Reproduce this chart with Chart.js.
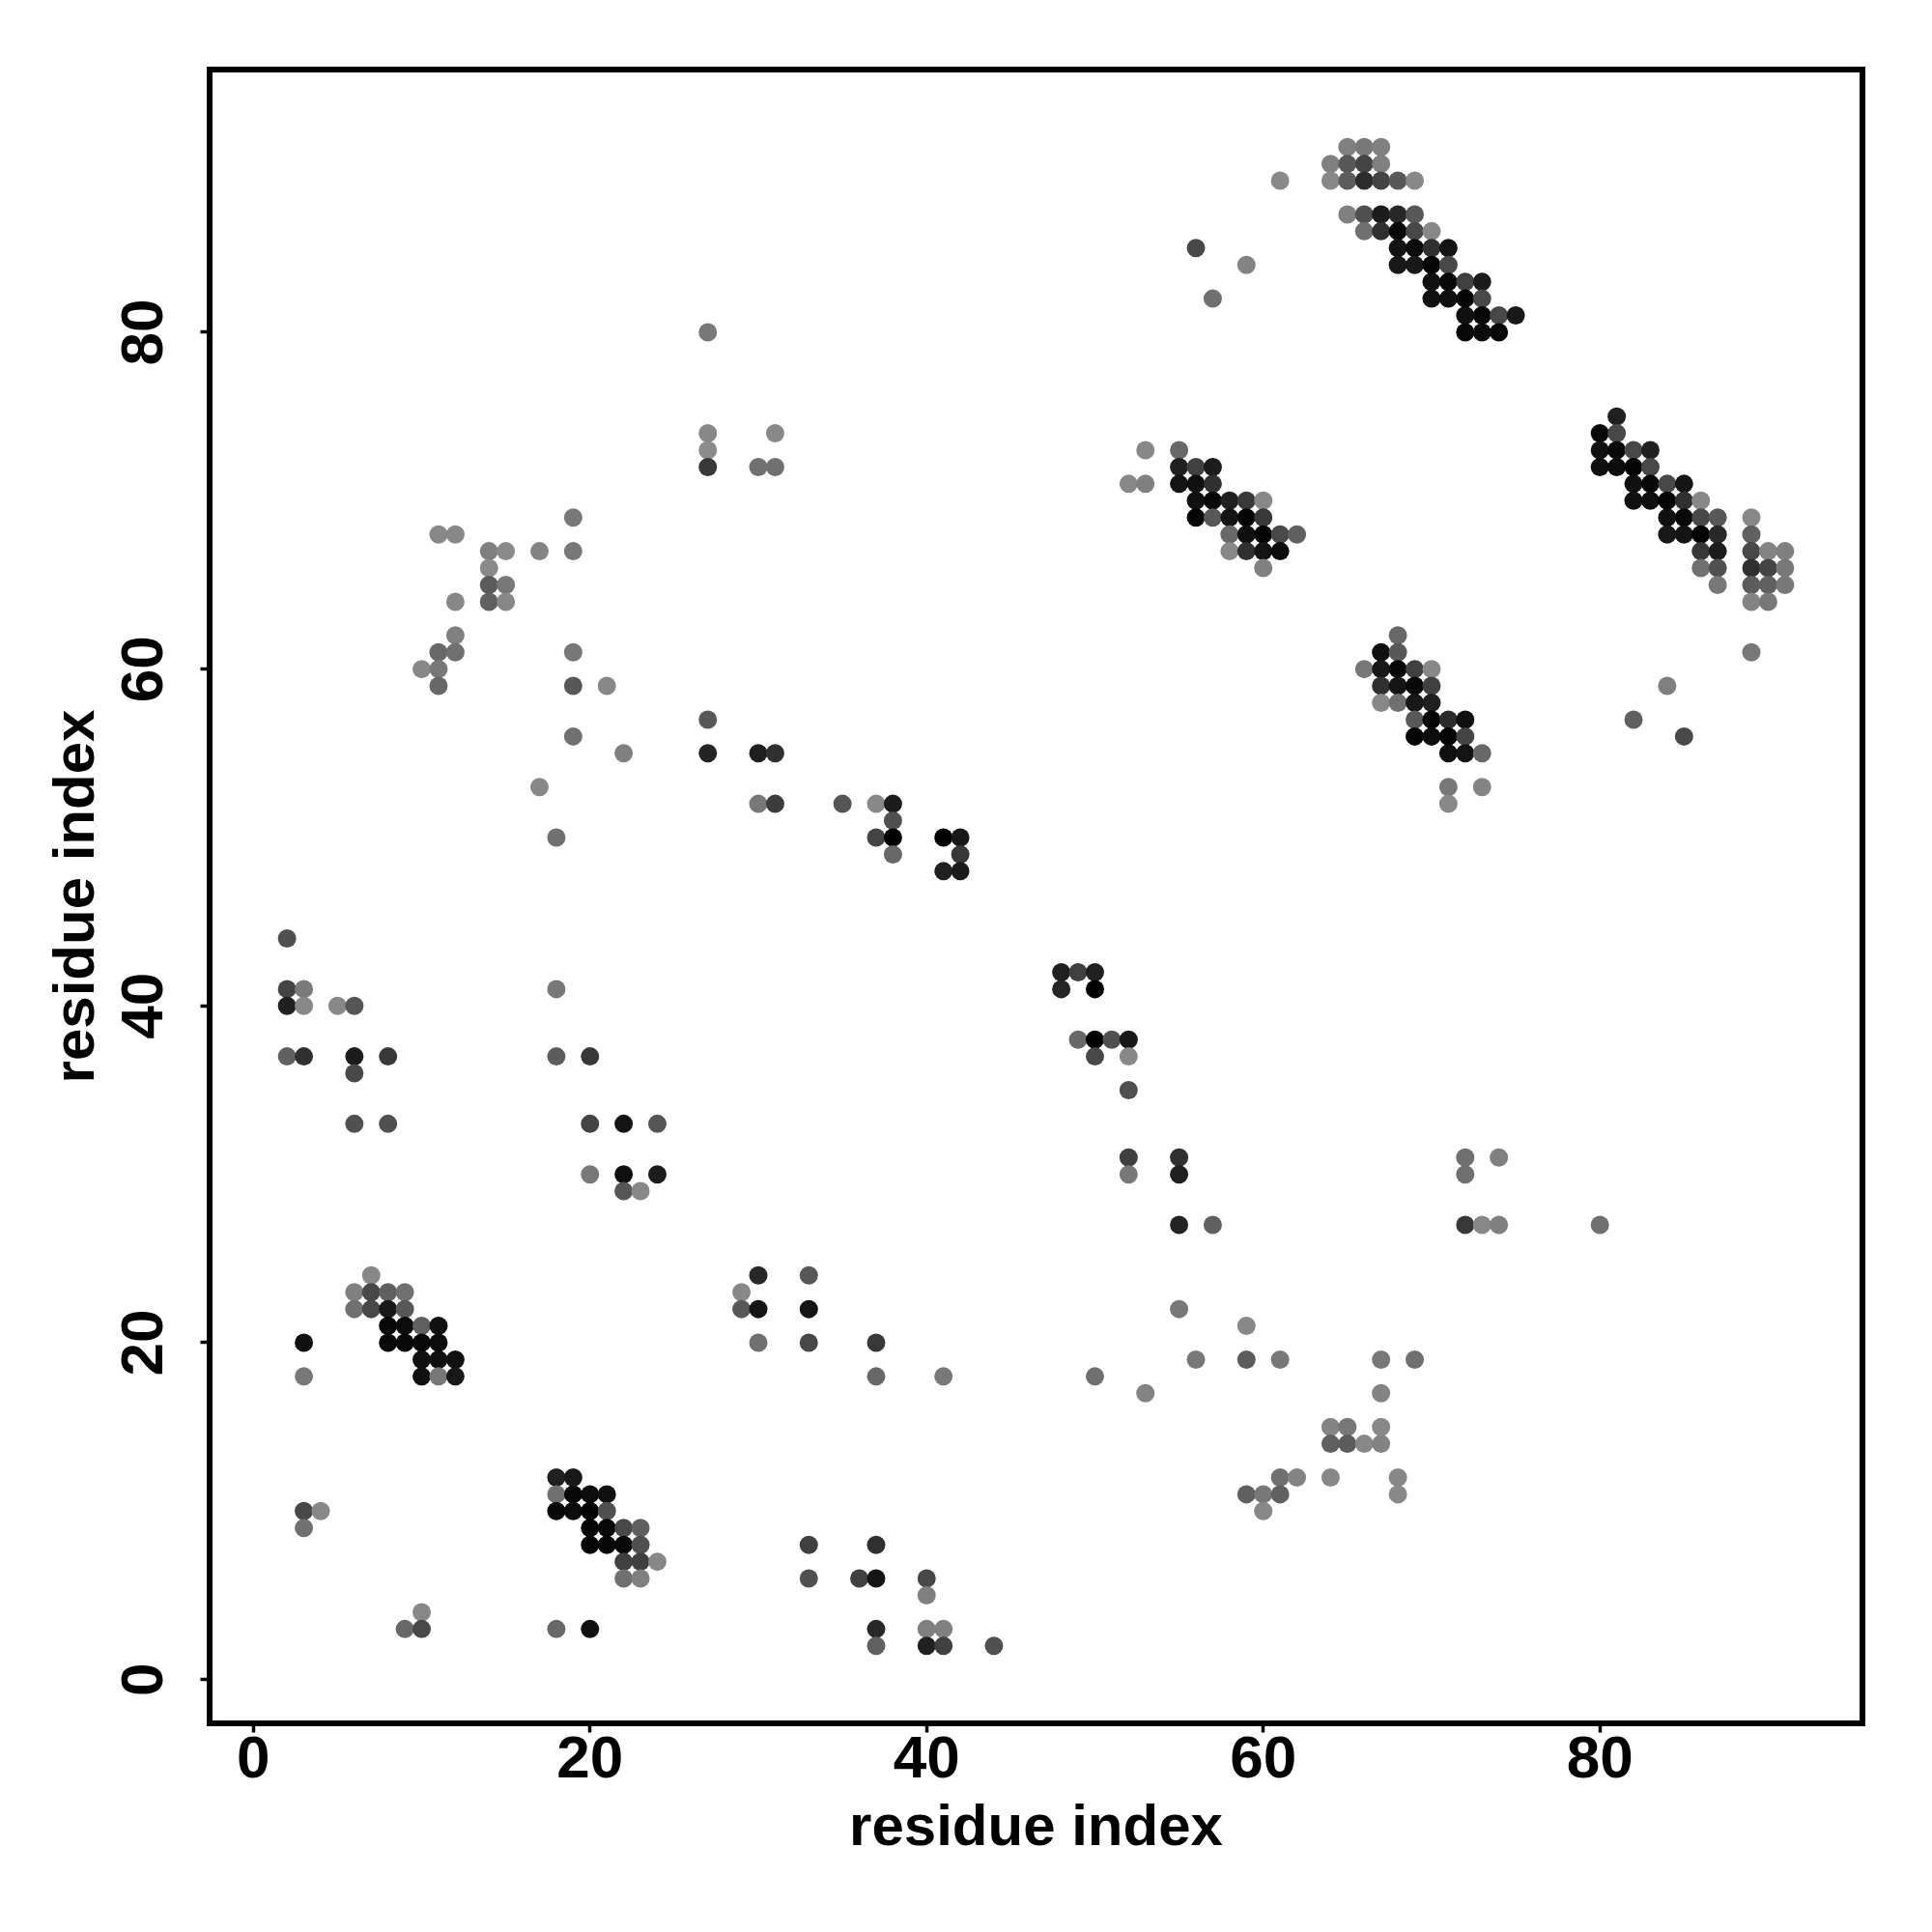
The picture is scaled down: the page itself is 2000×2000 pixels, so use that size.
<!DOCTYPE html>
<html>
<head>
<meta charset="utf-8">
<style>html,body{margin:0;padding:0;background:#fff}canvas{display:block}</style>
<script src="https://cdn.jsdelivr.net/npm/chart.js@4/dist/chart.umd.min.js"></script>
</head>
<body>
<canvas id="c" width="2000" height="2000" style="width:2000px;height:2000px"></canvas>
<script>
const tickValues = [0, 20, 40, 60, 80];
const axisLabel = "residue index";

const residueX = [
  65,66,67, 64,65,66,67, 61,64,65,66,67,68,69, 65,66,67,68,69, 66,67,68,69,70,
  56,68,69,70,71, 59,68,69,70,71, 70,71,72,73, 57,70,71,72,73, 72,73,74,75, 27,72,73,74,
  81, 80,81, 27,31, 27,53,55,80,81,82,83, 27,30,31,55,56,57,80,81,82,83,
  52,53,55,56,57,82,83,84,85, 56,57,58,59,60,82,83,84,85,86,
  19,56,57,58,59,60,84,85,86,87,89, 11,12,58,59,60,61,62,84,85,86,87,89,
  14,15,17,19,58,59,60,61,86,87,89,90,91, 14,60,86,87,89,90,91,
  14,15,87,89,90,91, 12,14,15,89,90, 12,68, 11,12,19,67,68,89,
  10,11,66,67,68,69,70, 11,19,21,67,68,69,70,84, 67,68,69,70,
  27,69,70,71,72,82, 19,69,70,71,72,85, 22,27,30,31,71,72,73,
  17,71,73, 30,31,35,37,38,71, 38, 18,37,38,41,42, 38,42, 41,42,
  2, 48,49,50, 2,3,18,48,50, 2,3,5,6, 49,50,51,52, 2,3,6,8,18,20,50,52, 6, 52,
  6,8,20,22,24,72,74, 52,55,72, 20,22,24,52,55, 22,23,
  7,30,33, 55,57,72,73,74,80, 6,7,8,9,29, 6,7,8,9,29,30,33,55, 8,9,10,11,59,
  3,8,9,10,11,30,33,37, 10,11,12,56,59,61,67,69, 3,10,11,12,37,41,50,
  53,67, 64,65,67, 64,65,66,67, 18,19,61,62,64,68, 18,19,20,21,59,60,61,68,
  3,4,18,19,20,21,60, 3,20,21,22,23, 20,21,22,23,33,37, 22,23,24,
  22,23,33,36,37,40, 40, 10, 9,10,18,20,37,40,41, 37,40,41,44
];
const residueY = [
  91,91,91, 90,90,90,90, 89,89,89,89,89,89,89, 87,87,87,87,87, 86,86,86,86,86,
  85,85,85,85,85, 84,84,84,84,84, 83,83,83,83, 82,82,82,82,82, 81,81,81,81, 80,80,80,80,
  75, 74,74, 74,74, 73,73,73,73,73,73,73, 72,72,72,72,72,72,72,72,72,72,
  71,71,71,71,71,71,71,71,71, 70,70,70,70,70,70,70,70,70,70,
  69,69,69,69,69,69,69,69,69,69,69, 68,68,68,68,68,68,68,68,68,68,68,68,
  67,67,67,67,67,67,67,67,67,67,67,67,67, 66,66,66,66,66,66,66,
  65,65,65,65,65,65, 64,64,64,64,64, 62,62, 61,61,61,61,61,61,
  60,60,60,60,60,60,60, 59,59,59,59,59,59,59,59, 58,58,58,58,
  57,57,57,57,57,57, 56,56,56,56,56,56, 55,55,55,55,55,55,55,
  53,53,53, 52,52,52,52,52,52, 51, 50,50,50,50,50, 49,49, 48,48,
  44, 42,42,42, 41,41,41,41,41, 40,40,40,40, 38,38,38,38, 37,37,37,37,37,37,37,37, 36, 35,
  33,33,33,33,33,31,31, 31,31,30, 30,30,30,30,30, 29,29,
  24,24,24, 27,27,27,27,27,27, 23,23,23,23,23, 22,22,22,22,22,22,22,22, 21,21,21,21,21,
  20,20,20,20,20,20,20,20, 19,19,19,19,19,19,19,19, 18,18,18,18,18,18,18,
  17,17, 15,15,15, 14,14,14,14, 12,12,12,12,12,12, 11,11,11,11,11,11,11,11,
  10,10,10,10,10,10,10, 9,9,9,9,9, 8,8,8,8,8,8, 7,7,7,
  6,6,6,6,6,6, 5, 4, 3,3,3,3,3,3,3, 2,2,2,2
];
const residueShade = [
  0x80,0x78,0x80, 0x80,0x58,0x44,0x80, 0x88,0x88,0x5c,0x2c,0x44,0x58,0x88, 0x80,0x50,0x1c,0x28,0x58, 0x70,0x30,0x08,0x48,0x88,
  0x48,0x14,0x0c,0x30,0x14, 0x84,0x18,0x18,0x04,0x48, 0x10,0x08,0x40,0x1c, 0x70,0x10,0x10,0x04,0x48, 0x10,0x08,0x48,0x18, 0x78,0x08,0x0c,0x08,
  0x20, 0x08,0x48, 0x88,0x88, 0x8c,0x88,0x68,0x10,0x08,0x48,0x20, 0x38,0x70,0x70,0x20,0x40,0x1c,0x10,0x0c,0x04,0x48,
  0x88,0x80,0x14,0x10,0x30,0x10,0x08,0x48,0x14, 0x10,0x08,0x20,0x38,0x88,0x10,0x10,0x04,0x30,0x88,
  0x78,0x04,0x58,0x14,0x04,0x38,0x10,0x08,0x48,0x58,0x88, 0x88,0x88,0x68,0x10,0x04,0x48,0x60,0x18,0x14,0x04,0x28,0x60,
  0x80,0x8a,0x84,0x78,0x88,0x30,0x14,0x0c,0x38,0x1c,0x48,0x84,0x80, 0x8a,0x80,0x70,0x50,0x30,0x44,0x78,
  0x5c,0x78,0x78,0x5c,0x60,0x78, 0x88,0x60,0x88,0x84,0x78, 0x80,0x68, 0x68,0x70,0x78,0x10,0x58,0x78,
  0x88,0x78,0x78,0x18,0x08,0x40,0x88, 0x68,0x58,0x88,0x30,0x14,0x08,0x40,0x80, 0x88,0x70,0x18,0x20,
  0x58,0x58,0x04,0x2c,0x10,0x60, 0x70,0x04,0x0c,0x04,0x44,0x48, 0x80,0x24,0x20,0x30,0x10,0x14,0x68,
  0x88,0x78,0x84, 0x78,0x3c,0x55,0x88,0x1c,0x88, 0x50, 0x70,0x44,0x00,0x00,0x18, 0x68,0x38, 0x20,0x1c,
  0x50, 0x20,0x40,0x20, 0x44,0x7a,0x78,0x24,0x00, 0x20,0x88,0x88,0x55, 0x68,0x00,0x50,0x18, 0x60,0x30,0x1c,0x38,0x5c,0x38,0x48,0x88, 0x48, 0x50,
  0x50,0x50,0x44,0x14,0x55,0x70,0x80, 0x40,0x30,0x70, 0x78,0x10,0x1c,0x78,0x20, 0x55,0x88,
  0x88,0x28,0x58, 0x24,0x60,0x38,0x88,0x80,0x70, 0x80,0x48,0x60,0x70,0x88, 0x70,0x48,0x18,0x58,0x58,0x14,0x14,0x78, 0x08,0x0c,0x60,0x10,0x88,
  0x10,0x08,0x08,0x08,0x0c,0x70,0x48,0x38, 0x10,0x10,0x10,0x78,0x5c,0x78,0x78,0x70, 0x78,0x10,0x78,0x18,0x68,0x78,0x70,
  0x84,0x84, 0x84,0x78,0x88, 0x60,0x5c,0x88,0x84, 0x20,0x18,0x70,0x84,0x88,0x88, 0x70,0x08,0x0c,0x10,0x60,0x78,0x60,0x88,
  0x48,0x88,0x08,0x0c,0x04,0x50,0x88, 0x70,0x04,0x08,0x48,0x60, 0x04,0x08,0x08,0x50,0x40,0x30, 0x40,0x40,0x88,
  0x70,0x80,0x50,0x40,0x14,0x48, 0x80, 0x88, 0x68,0x48,0x68,0x10,0x28,0x80,0x80, 0x60,0x20,0x40,0x50
];

const points = residueX.map((x, i) => ({ x, y: residueY[i] }));
const colors = residueShade.map(g => `rgb(${g},${g},${g})`);

const framePlugin = {
  id: 'frame',
  afterDatasetsDraw(chart) {
    const { ctx, chartArea: a } = chart;
    ctx.save();
    ctx.strokeStyle = '#000';
    ctx.lineWidth = 6;
    ctx.lineJoin = 'miter';
    ctx.strokeRect(a.left, a.top, a.right - a.left, a.bottom - a.top);
    ctx.restore();
  }
};

function setTicks(scale) { scale.ticks = tickValues.map(v => ({ value: v })); }
const FONT = 'Liberation Sans';

new Chart(document.getElementById('c'), {
  type: 'scatter',
  data: { datasets: [{ data: points, backgroundColor: colors, borderWidth: 0, pointRadius: 9.5, pointHoverRadius: 9.5 }] },
  plugins: [framePlugin],
  options: {
    responsive: false,
    animation: false,
    devicePixelRatio: 1,
    layout: { padding: { top: 72, right: 72, left: 0, bottom: 0 } },
    plugins: { legend: { display: false }, tooltip: { enabled: false } },
    scales: {
      x: {
        type: 'linear', min: -2.6, max: 95.6,
        afterBuildTicks: setTicks,
        afterFit(s) { s.height = 216; },
        border: { display: false },
        grid: { drawOnChartArea: false, drawTicks: true, tickLength: 9.5, tickWidth: 3.5, tickColor: '#000' },
        ticks: { color: '#000', padding: -8, autoSkip: false, maxRotation: 0, font: { family: FONT, size: 62, weight: 'bold' } },
        title: { display: true, text: axisLabel, color: '#000', padding: { top: 0, bottom: 71 }, font: { family: FONT, size: 60, weight: 'bold' } }
      },
      y: {
        type: 'linear', min: -2.6, max: 95.6,
        afterBuildTicks: setTicks,
        afterFit(s) { s.width = 217; },
        border: { display: false },
        grid: { drawOnChartArea: false, drawTicks: true, tickLength: 9.5, tickWidth: 3.5, tickColor: '#000' },
        ticks: { color: '#000', padding: 22, autoSkip: false, minRotation: 90, maxRotation: 90, crossAlign: 'center', font: { family: FONT, size: 62, weight: 'bold' } },
        title: { display: true, text: axisLabel, color: '#000', padding: { top: 44, bottom: 0 }, font: { family: FONT, size: 60, weight: 'bold' } }
      }
    }
  }
});
</script>
</body>
</html>
